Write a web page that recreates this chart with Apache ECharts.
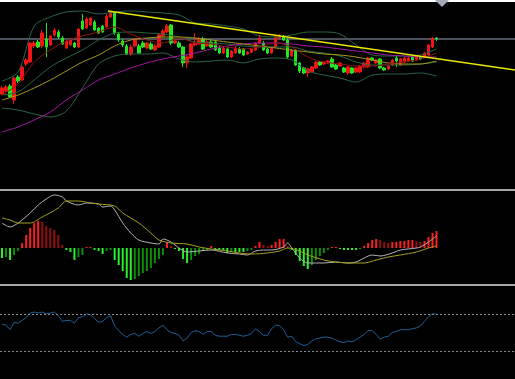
<!DOCTYPE html>
<html><head><meta charset="utf-8">
<script src="https://cdn.jsdelivr.net/npm/echarts@6/dist/echarts.min.js"></script>
<style>html,body{margin:0;padding:0;background:#000;}#c{width:515px;height:379px;}</style>
</head><body><div id="c"></div>
<script>
// ---------- data ----------
const SLOTS = 128; // chart width in bars (incl. empty right shift)
// [open, close, low, high]
const ohlc = [
[106,112,105,114],[109,113,108,115],[114,103,102,116],[100,122,96,123],[123,119,117,125],
[120,133,119,135],[136,140,134,142],[138,157,137,158],[154,157,152,159],[158,153,152,160],
[154,167,152,170],[161,153,143,177],[155,164,154,165],[165,170,163,172],[168,163,161,170],
[162,156,155,164],[152,159,151,160],[155,160,154,161],[157,153,152,158],[153,171,152,172],
[179,171,170,186],[172,181,171,183],[175,182,174,183],[178,170,169,180],[172,167,166,173],
[174,168,167,175],[173,184,172,186],[183,187,182,189],[187,167,165,188],[166,160,158,168],
[159,155,153,161],[154,146,145,156],[146,153,144,155],[154,161,153,162],[154,147,146,156],
[157,153,152,159],[152,157,151,158],[156,151,150,158],[150,154,149,156],[153,165,152,166],
[164,169,163,171],[168,174,167,176],[175,157,155,176],[157,159,156,161],[157,153,152,159],
[153,137,133,154],[137,143,132,145],[142,156,141,157],[155,157,154,167],[156,161,155,163],
[161,151,150,163],[154,158,153,160],[158,153,152,160],[158,150,149,160],[152,147,146,154],
[147,152,146,153],[151,143,142,153],[143,149,142,150],[147,152,146,154],[151,147,146,153],
[151,145,144,152],[146,148,145,149],[148,151,147,152],[150,157,149,158],[157,162,156,165],
[157,150,149,159],[151,147,146,152],[147,152,146,153],[153,163,152,164],[162,164,161,166],
[163,160,159,165],[160,143,141,162],[144,150,143,151],[149,135,134,151],[137,129,127,138],
[132,127,126,133],[127,131,123,132],[128,133,127,134],[132,138,131,139],[138,135,134,139],
[136,138,135,139],[137,139,136,140],[141,133,132,143],[135,131,130,136],[134,137,133,138],
[132,128,127,133],[127,133,125,134],[132,127,126,133],[128,132,127,133],[128,134,127,135],
[133,137,132,138],[133,142,132,143],[142,140,139,143],[137,140,136,141],[141,132,131,142],
[132,130,129,133],[131,134,130,135],[135,140,134,141],[142,139,133,145],[135,141,134,142],
[138,142,137,143],[139,142,138,143],[143,139,138,144],[140,144,139,145],[143,141,140,144],
[143,147,142,148],[145,155,144,156],[153,162,152,163],[162,161,159,163]
];
const lineIdx  = [0,4,8,12,16,20,24,28,32,36,40,44,48,52,56,60,64,68,72,76,80,84,88,92,96,100,104,108];
const bbUpper  = [119,128,174,183,188,189,186,188,189,188,187,185,177,176,174,171,164,163,165,168,168,166,155,145,144,144,145,151];
const bbMiddle = [105,108,120,133,142,150,160,167,168,167,166,163,158,157,156,154,153,153,153,149,147,144,138,135,135,135,136,138];
const bbLower  = [92,90,86,83,89,112,136,144,146,146,147,141,138,139,140,137,141,142,140,129,125,122,118,125,126,126,127,124];
const maFast   = [105,116,138,150,159,164,168,173,166,160,157,162,157,156,153,151,153,157,153,143,138,136,134,134,136,138,141,147];
const maMid    = [100,105,112,120,129,138,145,154,160,162,163,163,162,160,158,156,154,152,150,148,146,145,143,140,137,136,136,139];
const maSlow   = [68,73,80,88,100,110,120,126,132,137,141,144,147,151,154,156,157,157,156,154,153,151,149,147,145,144,143,143];
const trendline = [[26.35,189],[127.5,130]];
const bidPrice = 161;

const macdHist = [
-0.10,-0.09,-0.12,-0.07,-0.03,0.05,0.13,0.20,0.25,0.27,0.26,0.22,0.20,0.18,0.13,0.03,-0.02,-0.04,-0.12,-0.09,
-0.07,0.01,0.01,-0.02,-0.03,-0.06,-0.03,-0.02,-0.12,-0.17,-0.23,-0.30,-0.32,-0.31,-0.28,-0.25,-0.23,-0.20,-0.15,-0.11,
-0.07,0.06,0.02,-0.01,-0.03,-0.11,-0.15,-0.12,-0.08,-0.06,-0.03,-0.02,0.02,-0.02,-0.02,-0.02,-0.05,-0.04,-0.04,-0.04,
-0.04,-0.03,-0.02,0.02,0.06,0.03,0.02,0.03,0.06,0.09,0.09,0.02,-0.02,-0.07,-0.13,-0.18,-0.21,-0.17,-0.12,-0.08,
-0.05,-0.02,0.01,0.01,-0.01,-0.02,-0.02,-0.02,-0.02,-0.01,0.02,0.05,0.08,0.09,0.08,0.06,0.05,0.06,0.06,0.07,
0.07,0.08,0.08,0.07,0.06,0.07,0.11,0.15,0.17
];
const macdMain = [[0,0.25],[2,0.21],[4,0.25],[7,0.35],[9,0.43],[11,0.49],[13,0.53],[15,0.51],[16,0.47],[19,0.43],[21,0.45],[24,0.44],[25,0.41],[27,0.42],[28,0.38],[30,0.25],[32,0.15],[34,0.08],[37,0.05],[39,0.04],[40,0.09],[42,0.06],[44,0.00],[46,-0.04],[49,-0.03],[52,-0.02],[56,-0.05],[59,-0.06],[61,-0.07],[63,-0.03],[65,-0.02],[67,-0.02],[70,0.01],[71,0.05],[72,0.00],[74,-0.10],[76,-0.15],[80,-0.15],[83,-0.14],[86,-0.15],[88,-0.14],[90,-0.10],[92,-0.07],[94,-0.08],[97,-0.05],[99,-0.02],[103,0.00],[104,0.01],[106,0.06],[108,0.12]];
const macdSignal = [[0,0.30],[2,0.28],[4,0.25],[7,0.25],[10,0.31],[14,0.40],[16,0.47],[19,0.47],[22,0.45],[24,0.44],[28,0.42],[30,0.35],[34,0.25],[37,0.15],[39,0.08],[42,0.05],[46,0.04],[49,0.01],[52,-0.01],[56,-0.03],[59,-0.05],[62,-0.06],[66,-0.05],[69,-0.03],[71,0.00],[74,-0.03],[76,-0.07],[80,-0.12],[83,-0.14],[86,-0.15],[90,-0.15],[93,-0.12],[96,-0.09],[99,-0.07],[103,-0.04],[106,0.00],[108,0.02]];

const rsi = [
59,58,53,61,60,63,66,71,72,71,72,70,71,72,68,62,63,63,60,66,
67,70,69,65,61,62,66,68,57,52,48,45,48,49,46,49,51,49,51,55,
58,53,50,49,47,41,44,50,52,51,48,51,51,47,46,46,46,48,48,47,
46,47,49,54,51,47,47,54,58,57,53,45,46,40,38,36,37,41,43,44,
45,45,44,42,40,39,41,40,42,45,48,52,52,48,43,45,46,50,51,53,
53,53,54,55,57,62,67,70,70
];
const rsiLevels = [70, 30];

// ---------- chart ----------
const chart = echarts.init(document.getElementById('c'), null, {renderer:'canvas'});
const cats = Array.from({length: SLOTS}, (_, i) => String(i));
const pairs = (vals) => vals.map((v, k) => [lineIdx[k], v]);
const histData = macdHist.map((v, i) => {
  const prev = i > 0 ? macdHist[i-1] : v;
  let col;
  if (v >= 0) col = v >= prev ? '#ff1e1e' : '#960d0d';
  else col = v <= prev ? '#2af02a' : '#0c8c0c';
  return {value: v, itemStyle: {color: col}};
});
const ln = (name, data, color, xi, yi, w, smooth) => ({
  type: 'line', name, data, xAxisIndex: xi, yAxisIndex: yi, symbol: 'none',
  smooth: smooth === undefined ? 0.3 : smooth, silent: true,
  lineStyle: {color, width: w || 1}
});

chart.setOption({
  backgroundColor: '#000000',
  animation: false,
  grid: [
    {left: 0, right: 0, top: 3, height: 186},
    {left: 0, right: 0, top: 192, height: 92},
    {left: 0, right: 0, top: 286, height: 93}
  ],
  xAxis: [
    {type: 'category', data: cats, gridIndex: 0, show: false, boundaryGap: true},
    {type: 'value', gridIndex: 0, min: -0.5, max: SLOTS - 0.5, show: false},
    {type: 'category', data: cats, gridIndex: 1, show: false, boundaryGap: true},
    {type: 'value', gridIndex: 1, min: -0.5, max: SLOTS - 0.5, show: false},
    {type: 'value', gridIndex: 2, min: -0.5, max: SLOTS - 0.5, show: false}
  ],
  yAxis: [
    {type: 'value', gridIndex: 0, min: 11, max: 197, show: false, splitLine: {show: false}},
    {type: 'value', gridIndex: 1, min: -0.36, max: 0.56, show: false, splitLine: {show: false}},
    {type: 'value', gridIndex: 2, min: 0, max: 100, show: false, splitLine: {show: false}}
  ],
  series: [
    {
      type: 'candlestick', xAxisIndex: 0, yAxisIndex: 0, barWidth: 3, silent: true,
      data: ohlc,
      itemStyle: {color: '#f01414', color0: '#22e622', borderColor: '#f01414', borderColor0: '#22e622', borderWidth: 1},
      markLine: {
        silent: true, symbol: 'none', label: {show: false}, z: 1,
        lineStyle: {color: '#4b505b', width: 2, type: 'solid'},
        data: [{yAxis: bidPrice}]
      }
    },
    ln('BB upper', pairs(bbUpper), '#2b6446', 1, 0),
    ln('BB middle', pairs(bbMiddle), '#2b6446', 1, 0),
    ln('BB lower', pairs(bbLower), '#2b6446', 1, 0),
    ln('MA slow', pairs(maSlow), '#a416a4', 1, 0),
    ln('MA mid', pairs(maMid), '#a39b1c', 1, 0),
    ln('MA fast', pairs(maFast), '#8e1212', 1, 0),
    ln('Trend', trendline, '#e8e800', 1, 0, 1.5, false),
    {
      type: 'bar', xAxisIndex: 2, yAxisIndex: 1, barWidth: 2, silent: true,
      data: histData
    },
    ln('MACD', macdMain, '#b4b4b4', 3, 1, 1, 0.3),
    ln('Signal', macdSignal, '#a8a01e', 3, 1, 1, 0.3),
    {
      type: 'line', xAxisIndex: 4, yAxisIndex: 2, symbol: 'none', silent: true,
      data: rsi.map((v, i) => [i, v]),
      lineStyle: {color: '#1f5f9c', width: 1},
      markLine: {
        silent: true, symbol: 'none', label: {show: false},
        lineStyle: {color: '#8c8c8c', width: 1, type: [2, 2]},
        data: rsiLevels.map(v => ({yAxis: v}))
      }
    }
  ],
  graphic: [
    {type: 'rect', shape: {x: 0, y: 0, width: 515, height: 2}, style: {fill: '#ffffff'}, silent: true},
    {type: 'polygon', shape: {points: [[435, 0], [449, 0], [442, 7]]}, style: {fill: '#a4aab6'}, silent: true},
    {type: 'rect', shape: {x: 0, y: 189, width: 515, height: 2}, style: {fill: '#a6a6a6'}, silent: true},
    {type: 'rect', shape: {x: 0, y: 284, width: 515, height: 2}, style: {fill: '#a6a6a6'}, silent: true}
  ]
});
</script>
</body></html>
